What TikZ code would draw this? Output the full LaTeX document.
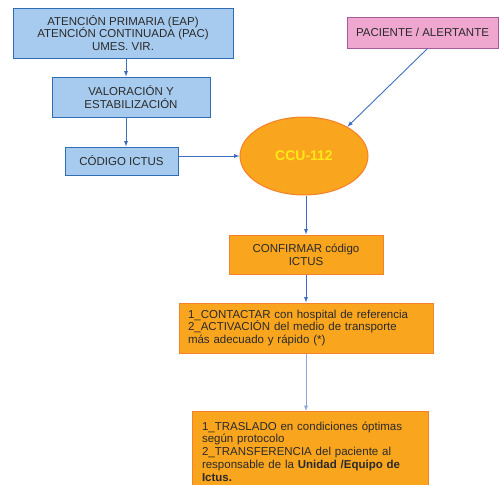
\documentclass[tikz,border=0pt]{standalone}
\usepackage{fontspec}
\setmainfont{Liberation Sans}
\usepackage{tikz}
\usetikzlibrary{calc,shapes,arrows}
\definecolor{azulfondo}{HTML}{A7CBEE}
\definecolor{azulborde}{HTML}{2F6DB5}
\definecolor{rosafondo}{HTML}{EFA7CF}
\definecolor{rosaborde}{HTML}{A25B9B}
\definecolor{naranjafondo}{HTML}{F9A51E}
\definecolor{naranjaborde}{HTML}{F5812C}
\definecolor{flechaazul}{HTML}{3F6EC0}
\definecolor{textogris}{HTML}{2A2A2A}
\definecolor{amarillo}{HTML}{FFE81A}

\begin{document}
\begin{tikzpicture}[x=1pt,y=-1pt,
    caja/.style={draw, line width=1pt, inner sep=0pt, text=textogris,
        font=\fontsize{11.5}{12.8}\selectfont, align=center},
    azul/.style={caja, fill=azulfondo, draw=azulborde},
    rosa/.style={caja, fill=rosafondo, draw=rosaborde},
    naranja/.style={caja, fill=naranjafondo, draw=naranjaborde},
    flecha/.style={-latex, draw=flechaazul, line width=0.9pt}]
    \useasboundingbox (0,0) rectangle (499,485);
    \node[azul, minimum width=220, minimum height=50] (primaria) at (123,33)
        {ATENCIÓN PRIMARIA (EAP)\\ATENCIÓN CONTINUADA (PAC)\\UMES. VIR.};
    \node[azul, minimum width=158, minimum height=40] (valoracion) at (131,97)
        {VALORACIÓN Y\\ESTABILIZACIÓN};
    \node[azul, minimum width=113, minimum height=28] (codigo) at (121.5,161)
        {CÓDIGO ICTUS};
    \node[rosa, minimum width=151, minimum height=31] (paciente) at (422.5,32.5)
        {PACIENTE / ALERTANTE};
    \node[naranja, ellipse, minimum width=128, minimum height=78, text=amarillo,
        font=\fontsize{14}{16}\selectfont\bfseries] (ccu) at (304,156) {CCU-112};
    \node[naranja, minimum width=154, minimum height=39] (confirmar) at (306,254.5)
        {CONFIRMAR código\\ICTUS};
    \node[naranja, minimum width=254, minimum height=50, text width=236,
        inner xsep=9, align=left] (contactar) at (306,328)
        {1\_CONTACTAR con hospital de referencia\\
         2\_ACTIVACIÓN del medio de transporte\\
         más adecuado y rápido (*)};
    \node[naranja, anchor=north, minimum width=236, minimum height=80,
        text width=216, inner xsep=10, align=left] (traslado) at (310,411)
        {1\_TRASLADO en condiciones óptimas\\
         según protocolo\\
         2\_TRANSFERENCIA del paciente al\\
         responsable de la \textbf{Unidad /Equipo de}\\
         \textbf{Ictus.}};

    % conectores
    \coordinate (eje) at (126,0);
    \draw[flecha] (primaria.south -| eje) -- (valoracion.north -| eje);
    \draw[flecha] (valoracion.south -| eje) -- (codigo.north -| eje);
    \draw[flecha] (codigo.east |- ccu.west) -- (ccu.west);
    \draw[flecha] ($(paciente.south)+(5,0)$) -- (ccu.34);
    \draw[flecha] (confirmar.north |- ccu.south) -- (confirmar.north);
    \draw[flecha] (confirmar.south) -- (contactar.north);
    \draw[flecha, draw=flechaazul!60] (contactar.south) -- (contactar.south |- traslado.north);
\end{tikzpicture}
\end{document}
